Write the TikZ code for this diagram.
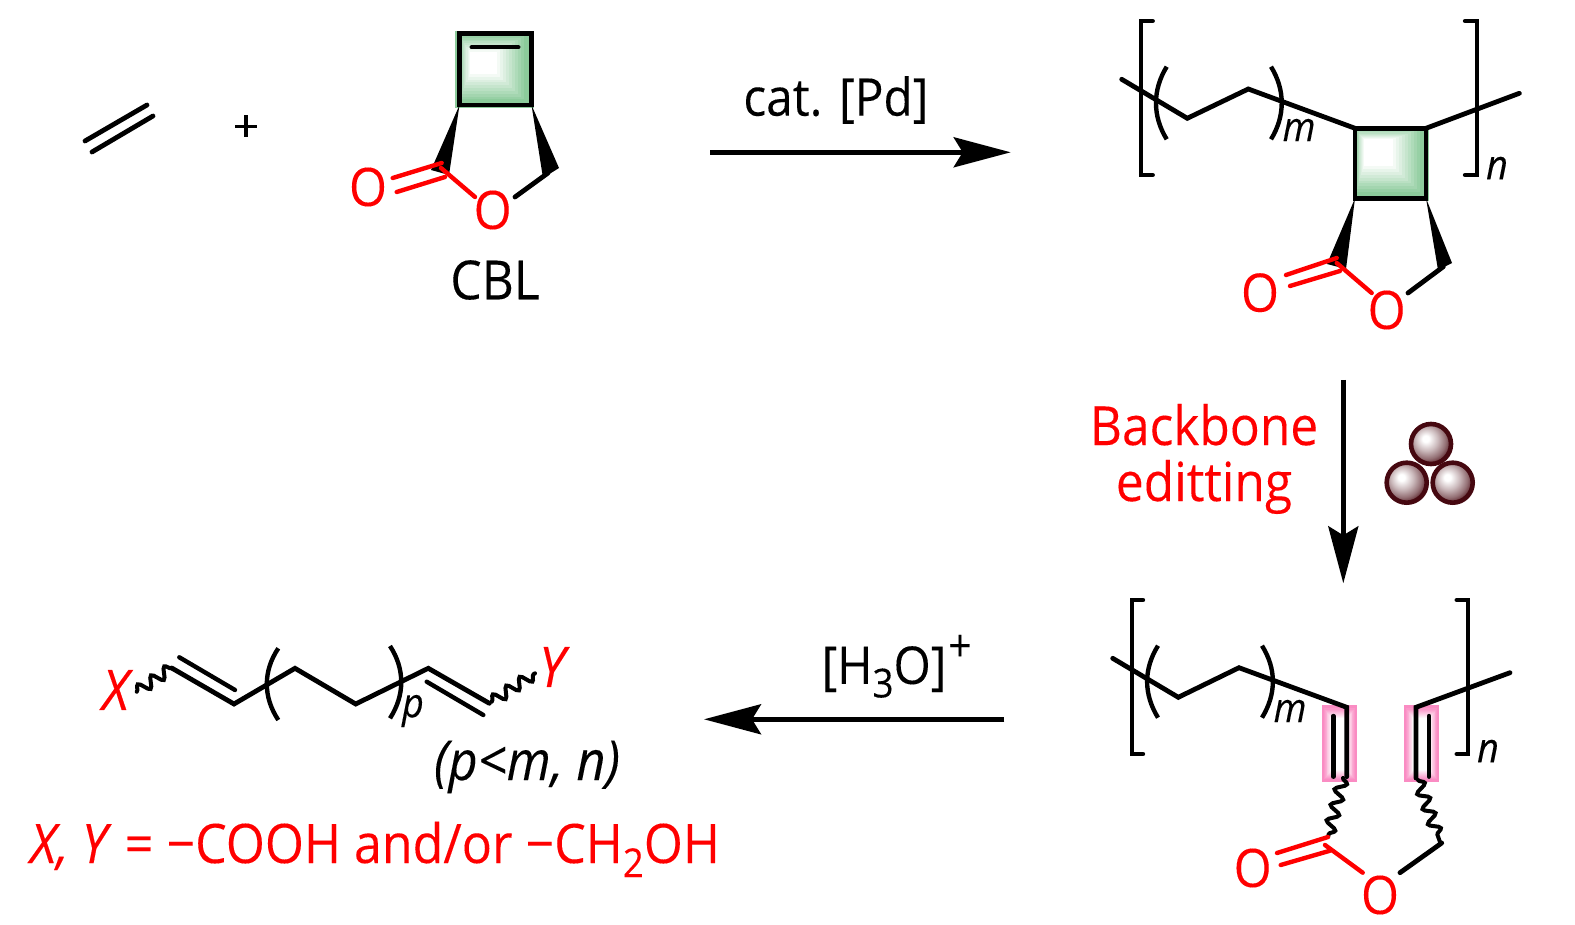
\documentclass[tikz,border=0pt]{standalone}
\usepackage{fontspec}
\setmainfont[FakeStretch=0.92, FakeBold=0.15]{Open Sans}
\usepackage{tikz}
\usetikzlibrary{arrows.meta,calc,decorations.pathmorphing}

\definecolor{ringgreen}{RGB}{140,203,155}
\definecolor{bondpink}{RGB}{250,140,195}
\definecolor{ballrim}{RGB}{70,8,16}
\pgfdeclareradialshading{beadshade}{\pgfpoint{-7bp}{7bp}}{color(0bp)=(white); color(4bp)=(white); color(14bp)=(white!72!ballrim); color(23bp)=(white!42!ballrim); color(32bp)=(ballrim); color(70bp)=(ballrim)}

\tikzset{
    bond/.style={black, line width=4.8pt, line cap=round},
    bondthin/.style={black, line width=4.4pt, line cap=round},
    redbond/.style={red, line width=4.4pt, line cap=round},
    wavy/.style={black, line width=4pt, line cap=round, decorate, decoration={snake, segment length=16pt, amplitude=5.5pt}},
    brack/.style={black, line width=4.4pt, line cap=round, line join=miter},
    paren/.style={black, line width=4.4pt},
    reaction/.style={black, line width=4.6pt},
    label/.style={inner sep=0pt, font=\fontsize{54}{56}\selectfont},
    redlabel/.style={label, text=red},
    atom/.style={inner sep=0pt, text=red, font=\fontsize{53}{56}\selectfont},
    italatom/.style={inner sep=0pt, text=red, font=\fontsize{56}{56}\selectfont\itshape},
    index/.style={inner sep=0pt, font=\fontsize{41}{40}\selectfont\itshape},
    bead/.style={circle, draw=ballrim, line width=4.6pt, minimum size=40pt, inner sep=0pt, shading=beadshade},
}

\newcommand{\lowtxt}[1]{\raisebox{-0.26em}{\fontsize{40}{40}\selectfont #1}}

% nested boxes, from the outer rectangle to the white inner one
\newcommand{\gradbox}[5]{
    \foreach \k in {0,1,...,12} {
        \pgfmathsetmacro{\t}{\k/12}
        \pgfmathsetmacro{\w}{min(100,120-\k*10)}
        \fill[#5!\w!white] ($(#1)!\t!(#3)$) rectangle ($(#2)!\t!(#4)$);
    }
}

\begin{document}
\begin{tikzpicture}[x=1pt, y=-1pt]
    \useasboundingbox (0,0) rectangle (1575,925);

    % ethylene and plus
    \coordinate(e1) at (85, 141);
    \coordinate(e2) at (147, 105);
    \coordinate(e3) at (92, 152);
    \coordinate(e4) at (153, 116);
    \draw[bond] (e1) -- (e2);
    \draw[bond] (e3) -- (e4);
    \coordinate(e5) at (235, 126.5);
    \coordinate(e6) at (257, 126.5);
    \coordinate(e7) at (246, 115.5);
    \coordinate(e8) at (246, 137.5);
    \draw[black, line width=3.8pt] (e5) -- (e6);
    \draw[black, line width=3.8pt] (e7) -- (e8);

    % CBL monomer
    \coordinate(a1) at (459.5, 33.5);
    \coordinate(a2) at (531.5, 33.5);
    \coordinate(a3) at (531.5, 105);
    \coordinate(a4) at (459.5, 105);
    \coordinate(a5) at (471.7, 47.3);
    \coordinate(a6) at (518.3, 47.3);
    \coordinate(a7) at (441, 168);
    \coordinate(a8) at (548, 173);
    \coordinate(a9) at (431, 170);
    \coordinate(a10) at (449, 175);
    \coordinate(a11) at (543, 178);
    \coordinate(a12) at (559, 168);
    \coordinate(a13) at (392.7, 178);
    \coordinate(a14) at (441.7, 163);
    \coordinate(a15) at (396.7, 192);
    \coordinate(a16) at (445, 177);
    \coordinate(a17) at (475, 197);
    \coordinate(a18) at (515, 197);

    \coordinate(g1) at (455, 31);
    \coordinate(g2) at (533.5, 108);
    \coordinate(g3) at (470, 52);
    \coordinate(g4) at (497, 74);
    \gradbox{g1}{g2}{g3}{g4}{ringgreen}

    \draw[bond] (a1) -- (a2) -- (a3) -- (a4) -- cycle;
    \draw[bondthin] (a5) -- (a6);
    \fill[black] (a4) -- (a10) -- (a9) -- cycle;
    \fill[black] (a3) -- (a12) -- (a11) -- cycle;
    \draw[bond] (a8) -- (a18);
    \draw[redbond] (a7) -- (a17);
    \draw[redbond] (a13) -- (a14);
    \draw[redbond] (a15) -- (a16);
    \node[atom] (o1) at (368, 187) {O};
    \node[atom] (o2) at (492.7, 210) {O};
    \node[label] (cbl) at (495, 280) {CBL};

    % polymer after the first step
    \coordinate(b1) at (1121.7, 79.3);
    \coordinate(b2) at (1187.3, 118.3);
    \coordinate(b3) at (1248.3, 89);
    \coordinate(b4) at (1355, 128.3);
    \coordinate(b5) at (1426, 128.3);
    \coordinate(b6) at (1426, 198.3);
    \coordinate(b7) at (1355, 198.3);
    \coordinate(b8) at (1519.3, 93.3);
    \coordinate(b9) at (1336.7, 263);
    \coordinate(b10) at (1443.3, 266.7);
    \coordinate(b11) at (1327, 264);
    \coordinate(b12) at (1346, 269);
    \coordinate(b13) at (1438, 270);
    \coordinate(b14) at (1452, 263);
    \coordinate(b15) at (1286, 275);
    \coordinate(b16) at (1336.7, 258);
    \coordinate(b17) at (1290, 286);
    \coordinate(b18) at (1340, 271);
    \coordinate(b19) at (1371.7, 293);
    \coordinate(b20) at (1408, 293);

    \coordinate(g5) at (1353, 126);
    \coordinate(g6) at (1428.5, 201);
    \coordinate(g7) at (1364, 139);
    \coordinate(g8) at (1393, 166);
    \gradbox{g5}{g6}{g7}{g8}{ringgreen}

    \draw[bond] (b1) -- (b2) -- (b3) -- (b4);
    \draw[bond] (b4) -- (b5) -- (b6) -- (b7) -- cycle;
    \draw[bond] (b5) -- (b8);
    \fill[black] (b7) -- (b12) -- (b11) -- cycle;
    \fill[black] (b6) -- (b14) -- (b13) -- cycle;
    \draw[bond] (b10) -- (b20);
    \draw[redbond] (b9) -- (b19);
    \draw[redbond] (b15) -- (b16);
    \draw[redbond] (b17) -- (b18);
    \node[atom] (o3) at (1260, 292.7) {O};
    \node[atom] (o4) at (1386.7, 310) {O};

    \coordinate(s1) at (1152.7, 21);
    \coordinate(s2) at (1140.7, 21);
    \coordinate(s3) at (1140.7, 175);
    \coordinate(s4) at (1152.7, 175);
    \coordinate(s5) at (1465, 21);
    \coordinate(s6) at (1477, 21);
    \coordinate(s7) at (1477, 175);
    \coordinate(s8) at (1465, 175);
    \draw[brack] (s1) -- (s2) -- (s3) -- (s4);
    \draw[brack] (s5) -- (s6) -- (s7) -- (s8);
    \coordinate(s9) at (1166.7, 66.7);
    \coordinate(s10) at (1166.7, 139.3);
    \coordinate(s11) at (1271, 66.7);
    \coordinate(s12) at (1271, 139.3);
    \draw[paren] (s9) .. controls (1152.4, 90) and (1152.4, 116) .. (s10);
    \draw[paren] (s11) .. controls (1285.3, 90) and (1285.3, 116) .. (s12);
    \node[index] (m1) at (1299, 130) {m};
    \node[index] (n1) at (1497, 168) {n};

    % polymer after backbone editing
    \coordinate(c1) at (1112.7, 658.3);
    \coordinate(c2) at (1178.3, 697.3);
    \coordinate(c3) at (1239, 667.7);
    \coordinate(c4) at (1346.7, 707.3);
    \coordinate(c5) at (1346.7, 776.7);
    \coordinate(c6) at (1333.3, 716);
    \coordinate(c7) at (1333.3, 776.7);
    \coordinate(c8) at (1416, 707.3);
    \coordinate(c9) at (1416, 778);
    \coordinate(c10) at (1429, 716);
    \coordinate(c11) at (1429, 776.7);
    \coordinate(c12) at (1510, 672.7);
    \coordinate(c13) at (1343, 778);
    \coordinate(c14) at (1328, 837);
    \coordinate(c15) at (1418, 780);
    \coordinate(c16) at (1440, 842);
    \coordinate(c17) at (1441.7, 843);
    \coordinate(c18) at (1400, 872.7);
    \coordinate(c19) at (1325, 845);
    \coordinate(c20) at (1362.7, 872.7);
    \coordinate(c21) at (1277, 853);
    \coordinate(c22) at (1328, 837);
    \coordinate(c23) at (1280.7, 865);
    \coordinate(c24) at (1330, 850.7);

    \coordinate(h1) at (1322.3, 705.3);
    \coordinate(h2) at (1356.7, 782.3);
    \coordinate(h3) at (1331, 718);
    \coordinate(h4) at (1348, 770);
    \gradbox{h1}{h2}{h3}{h4}{bondpink}
    \coordinate(h5) at (1404.3, 705.3);
    \coordinate(h6) at (1439, 782.3);
    \coordinate(h7) at (1413, 718);
    \coordinate(h8) at (1430, 770);
    \gradbox{h5}{h6}{h7}{h8}{bondpink}

    \draw[bond] (c1) -- (c2) -- (c3) -- (c4) -- (c5);
    \draw[bondthin] (c6) -- (c7);
    \draw[bond] (c12) -- (c8) -- (c9);
    \draw[bondthin] (c10) -- (c11);
    \draw[wavy] (c13) -- (c14);
    \draw[wavy] (c15) -- (c16);
    \draw[bond] (c17) -- (c18);
    \draw[redbond] (c19) -- (c20);
    \draw[redbond] (c21) -- (c22);
    \draw[redbond] (c23) -- (c24);
    \node[atom] (o5) at (1252.7, 868) {O};
    \node[atom] (o6) at (1380, 895) {O};

    \coordinate(t1) at (1143, 600);
    \coordinate(t2) at (1131.7, 600);
    \coordinate(t3) at (1131.7, 754);
    \coordinate(t4) at (1143, 754);
    \coordinate(t5) at (1456.7, 600);
    \coordinate(t6) at (1468, 600);
    \coordinate(t7) at (1468, 754);
    \coordinate(t8) at (1456.7, 754);
    \draw[brack] (t1) -- (t2) -- (t3) -- (t4);
    \draw[brack] (t5) -- (t6) -- (t7) -- (t8);
    \coordinate(t9) at (1158, 645.7);
    \coordinate(t10) at (1158, 717.7);
    \coordinate(t11) at (1262, 645.7);
    \coordinate(t12) at (1262, 717.7);
    \draw[paren] (t9) .. controls (1143.5, 669) and (1143.5, 694) .. (t10);
    \draw[paren] (t11) .. controls (1276.5, 669) and (1276.5, 694) .. (t12);
    \node[index] (m2) at (1290, 711) {m};
    \node[index] (n2) at (1488, 751) {n};

    % product chain
    \coordinate(d1) at (136.7, 691.7);
    \coordinate(d2) at (171.7, 668);
    \coordinate(d3) at (234, 704);
    \coordinate(d4) at (295, 668.3);
    \coordinate(d5) at (355.7, 704);
    \coordinate(d6) at (428.3, 668.3);
    \coordinate(d7) at (489.3, 703.3);
    \coordinate(d8) at (179.3, 657.3);
    \coordinate(d9) at (235, 690);
    \coordinate(d10) at (426.7, 681.7);
    \coordinate(d11) at (483.3, 715);
    \coordinate(d12) at (491.7, 701.7);
    \coordinate(d13) at (535, 673.3);
    \draw[wavy] (d1) -- (d2);
    \draw[bond] (d2) -- (d3) -- (d4) -- (d5) -- (d6) -- (d7);
    \draw[bondthin] (d8) -- (d9);
    \draw[bondthin] (d10) -- (d11);
    \draw[wavy] (d12) -- (d13);
    \coordinate(d14) at (278.3, 648.3);
    \coordinate(d15) at (278.3, 720);
    \coordinate(d16) at (390, 646);
    \coordinate(d17) at (390, 718.3);
    \draw[paren] (d14) .. controls (263, 671) and (263, 697) .. (d15);
    \draw[paren] (d16) .. controls (405, 669) and (405, 695) .. (d17);
    \node[index] (p1) at (413, 711) {p};
    \node[italatom] (x1) at (115.5, 690) {X};
    \node[italatom] (y1) at (552, 667) {Y};

    % reaction arrows
    \coordinate(r1) at (710, 152.3);
    \coordinate(r2) at (1010.7, 152.3);
    \coordinate(r3) at (1343.3, 380);
    \coordinate(r4) at (1343.3, 583.3);
    \coordinate(r5) at (1004.3, 719.3);
    \coordinate(r6) at (704, 719.3);
    \draw[reaction, -{Stealth[length=57pt, width=30pt, inset=9pt]}] (r1) -- (r2);
    \draw[reaction, -{Stealth[length=57pt, width=30pt, inset=9pt]}] (r3) -- (r4);
    \draw[reaction, -{Stealth[length=57pt, width=30pt, inset=9pt]}] (r5) -- (r6);

    \node[label, font=\fontsize{52}{56}\selectfont] (cat) at (836, 100) {cat. [Pd]};
    \node[redlabel, align=center] (edit) at (1204, 459) {Backbone\\editting};
    \node[label, font=\fontsize{52}{56}\selectfont] (acid) at (884, 672) {[H\lowtxt{3}O]};
    \node[inner sep=0pt, font=\fontsize{44}{44}\selectfont] (plus) at (960, 648) {+};
    \node[label, font=\fontsize{55}{56}\selectfont\itshape] (cond) at (527, 767) {(p<m, n)};
    \node[redlabel, anchor=base, font=\fontsize{54.5}{56}\selectfont] (legend) at (375, 863) {\textit{X, Y} = −COOH and/or −CH\lowtxt{2}OH};

    % beads
    \node[bead] (b1a) at (1431, 444) {};
    \node[bead] (b1b) at (1406.7, 482.7) {};
    \node[bead] (b1c) at (1452.7, 482.7) {};
\end{tikzpicture}
\end{document}
